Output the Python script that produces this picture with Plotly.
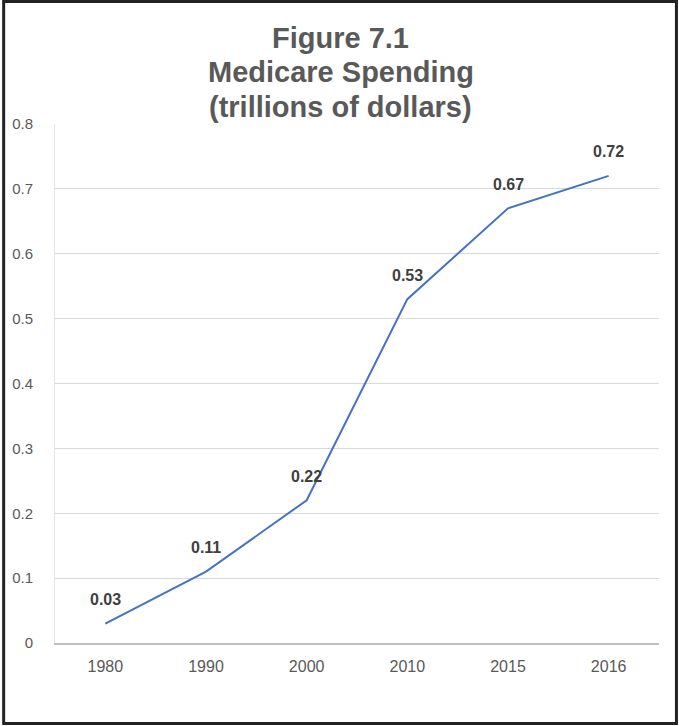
import plotly.graph_objects as go

years = ["1980", "1990", "2000", "2010", "2015", "2016"]
spending = [0.03, 0.11, 0.22, 0.53, 0.67, 0.72]
y_ticks = [0, 0.1, 0.2, 0.3, 0.4, 0.5, 0.6, 0.7, 0.8]
y_tick_labels = ["0", "0.1", "0.2", "0.3", "0.4", "0.5", "0.6", "0.7", "0.8"]
title_lines = ["Figure 7.1", "Medicare Spending", "(trillions of dollars)"]

W, H = 679, 726
L, R, T, B = 53, 20, 124, 83
pw, ph = W - L - R, H - T - B
FONT = "Liberation Sans, Arial"


def px_x(p):
    return (p - L) / pw


def px_y(p):
    return (H - B - p) / ph


fig = go.Figure()
fig.add_trace(go.Scatter(
    x=years, y=spending, mode="lines",
    line=dict(color="#4472C4", width=2),
    hoverinfo="skip",
))

annotations = []
for i, v in enumerate(spending):
    annotations.append(dict(
        x=i, y=v, xref="x", yref="y", text=f"<b>{v:.2f}</b>",
        showarrow=False, yshift=24, xanchor="center", yanchor="middle",
        font=dict(family=FONT, size=16, color="#404040"),
    ))

title_centers = [38, 72, 107]
for line, cy in zip(title_lines, title_centers):
    annotations.append(dict(
        x=px_x(W / 2), y=px_y(cy), xref="paper", yref="paper",
        text=f"<b>{line}</b>", showarrow=False,
        xanchor="center", yanchor="middle",
        font=dict(family=FONT, size=29, color="#595959"),
    ))

fig.update_layout(
    width=W, height=H,
    margin=dict(l=L, r=R, t=T, b=B),
    paper_bgcolor="white", plot_bgcolor="white",
    showlegend=False,
    annotations=annotations,
    xaxis=dict(
        type="category", range=[-0.5, 5.5], showgrid=False, zeroline=False,
        showline=True, linecolor="#bfbfbf", linewidth=1.5,
        ticks="", ticklabelstandoff=8,
        tickfont=dict(family=FONT, size=16, color="#595959"),
        fixedrange=True,
    ),
    yaxis=dict(
        range=[0, 0.8], tickvals=y_ticks, ticktext=y_tick_labels,
        showgrid=True, gridcolor="#d9d9d9", gridwidth=1,
        zeroline=False, showline=True, linecolor="#e6e6e6", linewidth=1,
        ticks="", ticklabelstandoff=18,
        tickfont=dict(family=FONT, size=15, color="#595959"),
        fixedrange=True,
    ),
    shapes=[dict(
        type="rect", xref="paper", yref="paper",
        x0=px_x(1.5), x1=px_x(W - 2.5), y0=px_y(1.5), y1=px_y(H - 2.5),
        line=dict(color="#222222", width=3), fillcolor="rgba(0,0,0,0)",
        layer="above",
    )],
)

fig.write_html("out.html")
